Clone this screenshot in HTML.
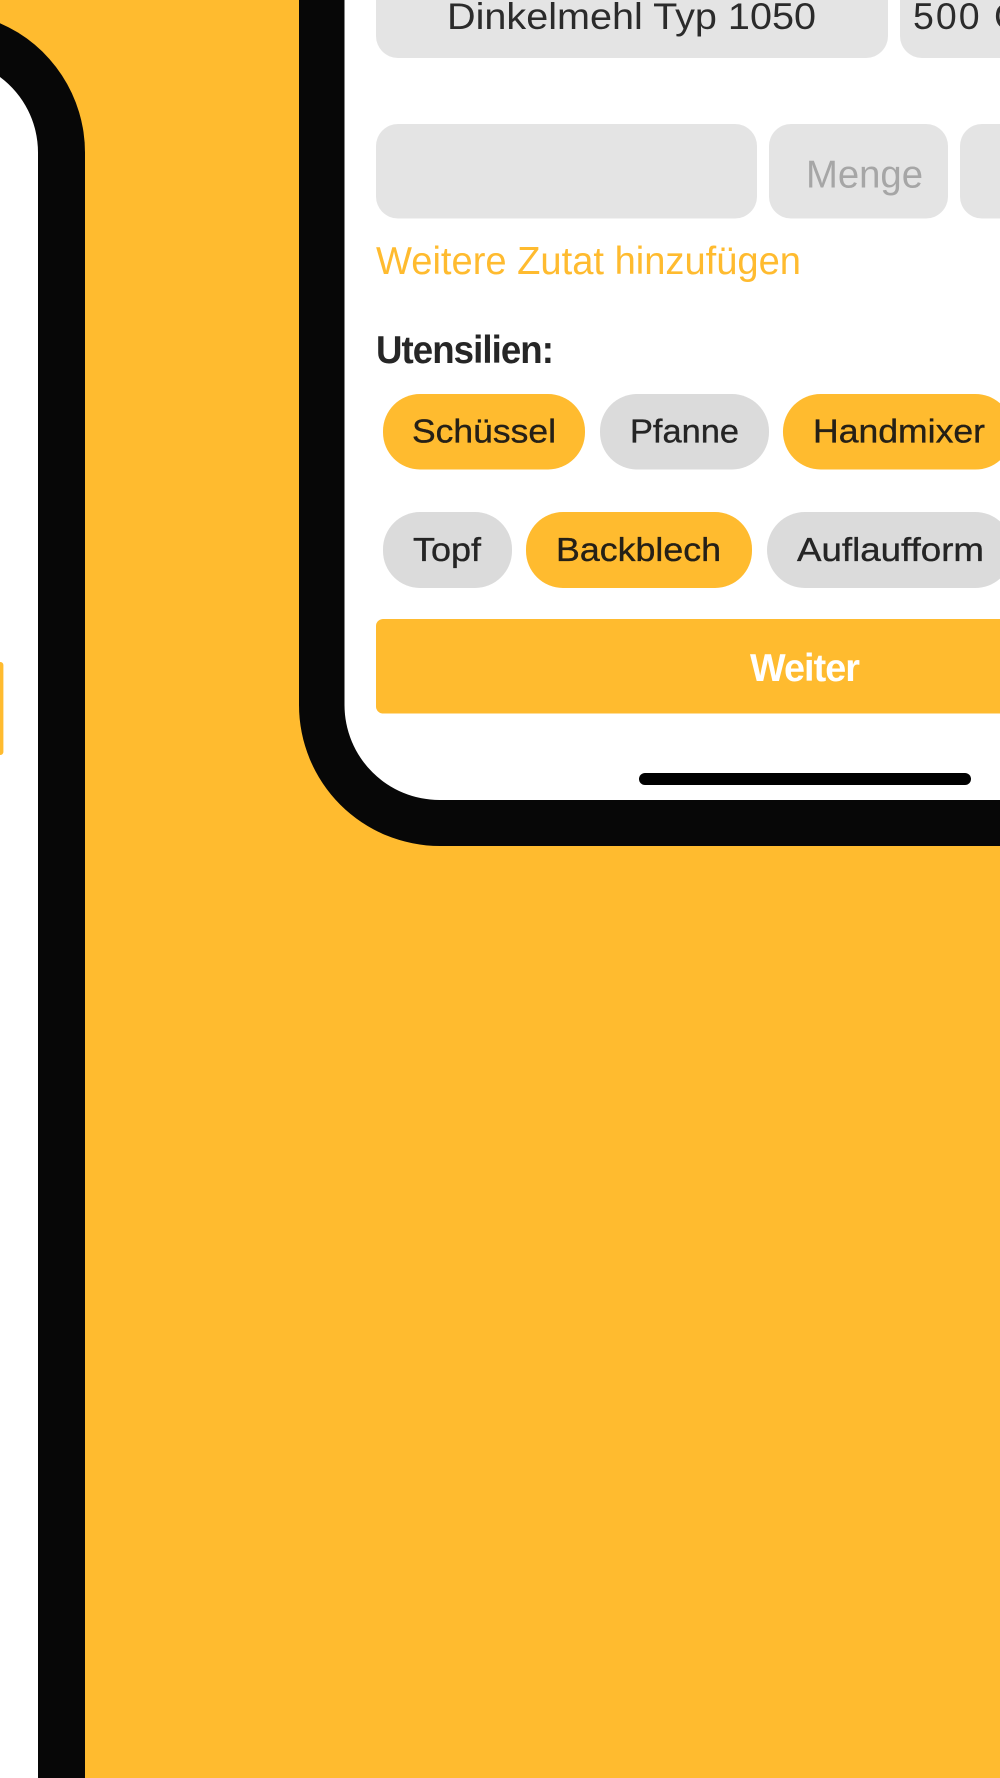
<!DOCTYPE html>
<html lang="de">
<head>
<meta charset="utf-8">
<title>Zutaten und Utensilien</title>
<style>
html,body{margin:0;padding:0;width:1000px;height:1778px;overflow:hidden;background:#FFBB2F}
svg{display:block}
text{font-family:"Liberation Sans",sans-serif}
</style>
</head>
<body>
<svg xmlns="http://www.w3.org/2000/svg" width="1000" height="1778" viewBox="0 0 1000 1778">
  <rect width="1000" height="1778" fill="#FFBB2F"/>

  <!-- Left phone -->
  <path d="M0 23.2A141 141 0 0 1 85 152.6V1778H0Z" fill="#070707"/>
  <path d="M0 77A94 94 0 0 1 38 152.6V1778H0Z" fill="#FFFFFF"/>
  <path d="M0 662H.4A3 3 0 0 1 3.4 665V752A3 3 0 0 1 .4 755H0Z" fill="#FFBB2F"/>

  <!-- Right phone -->
  <path d="M299 0V705A141 141 0 0 0 440 846H1000V0Z" fill="#070707"/>
  <path d="M344.5 0V705A95 95 0 0 0 439.5 800H1000V0Z" fill="#FFFFFF"/>

  <!-- Row 1 inputs -->
  <path d="M376 0V36A22 22 0 0 0 398 58H866A22 22 0 0 0 888 36V0Z" fill="#E4E4E4"/>
  <path d="M900 0V36A22 22 0 0 0 922 58H1000V0Z" fill="#E4E4E4"/>
  <text x="447" y="29" font-size="37.5" fill="#2B2B2B" textLength="369" lengthAdjust="spacingAndGlyphs">Dinkelmehl Typ 1050</text>
  <text x="913" y="29" font-size="37.5" fill="#2B2B2B" letter-spacing="2">500 G</text>

  <!-- Row 2 inputs -->
  <rect x="376" y="124" width="381" height="94.5" rx="22" ry="22" fill="#E4E4E4"/>
  <rect x="769" y="124" width="179" height="94.5" rx="22" ry="22" fill="#E4E4E4"/>
  <path d="M1000 124H982A22 22 0 0 0 960 146V196.5A22 22 0 0 0 982 218.5H1000Z" fill="#E4E4E4"/>
  <text x="806" y="187.5" font-size="39" fill="#A6A6A6" textLength="117" lengthAdjust="spacingAndGlyphs">Menge</text>

  <!-- Link -->
  <text x="376" y="274" font-size="39" fill="#FFBB2F" textLength="425" lengthAdjust="spacingAndGlyphs">Weitere Zutat hinzufügen</text>

  <!-- Heading -->
  <text x="376" y="363" font-size="39" font-weight="bold" letter-spacing="-1" fill="#262626" textLength="177" lengthAdjust="spacingAndGlyphs">Utensilien:</text>

  <!-- Pills row 1 -->
  <rect x="383" y="394" width="202" height="75.5" rx="37" ry="37" fill="#FFBB2F"/>
  <rect x="600" y="394" width="169" height="75.5" rx="37" ry="37" fill="#DBDBDB"/>
  <path d="M975.3 394H820.7A37.7 37.7 0 0 0 820.7 469.5H975.3A37.7 37.7 0 0 0 1000 460.2V403.3A37.7 37.7 0 0 0 975.3 394Z" fill="#FFBB2F"/>
  <text x="412" y="442.5" font-size="33.5" fill="#252017" stroke="#252017" stroke-width=".35" textLength="144" lengthAdjust="spacingAndGlyphs">Schüssel</text>
  <text x="630" y="442.5" font-size="33.5" fill="#252525" stroke="#252525" stroke-width=".35" textLength="109" lengthAdjust="spacingAndGlyphs">Pfanne</text>
  <text x="813" y="442.5" font-size="33.5" fill="#252017" stroke="#252017" stroke-width=".35" textLength="172" lengthAdjust="spacingAndGlyphs">Handmixer</text>

  <!-- Pills row 2 -->
  <rect x="383" y="512" width="129" height="76" rx="37" ry="37" fill="#DBDBDB"/>
  <rect x="526" y="512" width="226" height="76" rx="37" ry="37" fill="#FFBB2F"/>
  <path d="M975 512H805A38 38 0 0 0 805 588H975A38 38 0 0 0 1000 578.6V521.4A38 38 0 0 0 975 512Z" fill="#DBDBDB"/>
  <text x="413" y="561" font-size="33.5" fill="#252525" stroke="#252525" stroke-width=".35" textLength="68" lengthAdjust="spacingAndGlyphs">Topf</text>
  <text x="556" y="561" font-size="33.5" fill="#252017" stroke="#252017" stroke-width=".35" textLength="165" lengthAdjust="spacingAndGlyphs">Backblech</text>
  <text x="797" y="561" font-size="33.5" fill="#252525" stroke="#252525" stroke-width=".35" textLength="187" lengthAdjust="spacingAndGlyphs">Auflaufform</text>

  <!-- Button -->
  <path d="M1000 619H383A7 7 0 0 0 376 626V706.5A7 7 0 0 0 383 713.5H1000Z" fill="#FFBB2F"/>
  <text x="750" y="681" font-size="39" font-weight="bold" letter-spacing="-1" fill="#FFFFFF" textLength="109" lengthAdjust="spacingAndGlyphs">Weiter</text>

  <!-- Home indicator -->
  <rect x="639" y="773" width="332" height="12" rx="6" ry="6" fill="#000000"/>
</svg>
</body>
</html>
